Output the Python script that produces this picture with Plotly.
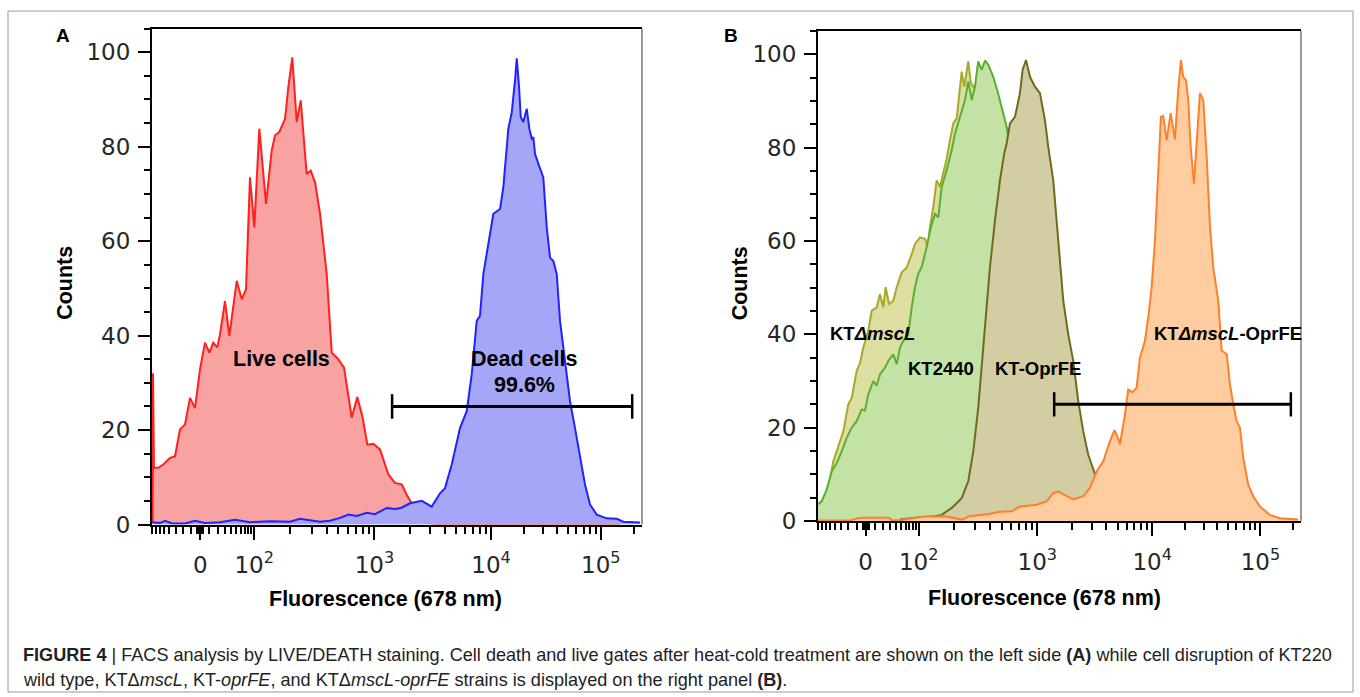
import numpy as np
import plotly.graph_objects as go

# ---------------- data (x in logicle display channels 0-1000, y = counts) -------------
live_x = [1.4, 2, 4, 12.9, 23, 36.7, 46.9, 57.1, 67.4, 77.6, 87.8, 98, 108.2, 117, 125.1, 133.3,
          138.8, 149, 157.8, 172.9, 183.1, 191.9, 195.3, 200, 208.8, 219, 232.7, 244.3, 251, 259.8,
          271.5, 278.2, 286.3, 295.3, 303.5, 315.7, 323.9, 332.7, 342.9, 356.6, 366.8, 380.2, 391.9,
          407.6, 419, 430, 439.4, 451.7, 465.3, 482.3, 496, 509.6, 519.8, 530, 547, 567, 588, 955]
live_y = [0.6, 32, 12, 12, 12.7, 14.1, 14.4, 20.1, 21.2, 26.8, 24.7, 32.9, 38.5, 36.4, 38.5, 37.5,
          40.3, 47.3, 39.9, 51.6, 47.7, 49.8, 60, 73.5, 62.9, 83.8, 67.9, 79.2, 82.4, 83.1,
          85.9, 92.6, 98.9, 85.2, 89.8, 74.2, 74.9, 72.5, 65.8, 53, 36.4, 35, 33.2,
          22.6, 27, 22.6, 16.9, 17.1, 15.9, 10.6, 8.8, 8.5, 6.3, 4.5, 1.5, 0.3, 0, 0]

dead_x = [0, 16.3, 26.5, 40.8, 67.4, 87.8, 108.2, 138.8, 169.4, 200, 240.8, 281.7, 302, 342.9,
          363.3, 383.7, 400.7, 417.8, 438.2, 455.1, 479, 496, 508.2, 526.6, 550.5, 570.9, 587.8,
          598, 611.7, 628.6, 642.3, 652.5, 662.7, 669.4, 676.2, 686.4, 696.6, 710.3, 717, 727.2,
          734.2, 740.9, 744.4, 749.1, 752.5, 757.8, 764.8, 770.1, 775, 778.2, 781.7, 788.4, 798.6,
          805.6, 812.3, 819.1, 826, 832.7, 842.9, 853.1, 863.3, 873.5, 883.8, 894, 907.6, 928,
          948.5, 961.9, 982.3, 996]
dead_y = [0.5, 0.3, 0.8, 0.2, 0.2, 0.8, 0.3, 0.5, 1.0, 0.5, 0.7, 0.6, 1.2, 0.6,
          0.8, 1.4, 2.1, 1.8, 2.5, 2.2, 3.5, 3.3, 3.5, 4.5, 5.0, 3.8, 6.6,
          7.7, 12.7, 20.4, 24, 31.8, 43.1, 44.2, 53, 59.4, 65.8, 66.8, 71.4, 83.8,
          87.3, 94.1, 98.7, 92.6, 86.3, 85.2, 88, 83.8, 81.7, 82, 78.5, 76.4, 73.5,
          62.9, 56.5, 55.8, 53, 43.1, 34.6, 26.1, 20.4, 14.1, 8.4, 4.2, 2.1, 1.3,
          1.2, 0.6, 0.5, 0.4]

mscl_x = [0, 7.7, 21.3, 31.7, 42, 52.4, 62.7, 69.8, 80.1, 86.9, 93.8, 104.1, 111.2, 121.5, 128.3,
          135.2, 140.1, 147, 155.9, 162.9, 173.3, 183.6, 194, 200.8, 211.1, 221.5, 227.1, 231.8,
          238.7, 245.7, 252.5, 259.4, 266.4, 273.2, 280.1, 287.1, 293.9, 297.5, 302.8, 307.8,
          311.1, 316.7, 325, 331.8, 338.9, 345.7, 352.5, 362.9, 373.2, 380.3, 390.6, 397.4,
          418.1, 438.8, 459.5, 480.2, 501, 521.6, 542.3, 666.5]
mscl_y = [3.5, 4.2, 7.1, 12.8, 16, 19.2, 25, 26.4, 32.2, 33.8, 37.2, 40.8, 45.1, 45.8, 48.6,
          45.8, 50.1, 46.5, 47.2, 50.1, 53.3, 54.3, 57.2, 59.4, 60.8, 60.5, 58.9, 63,
          67.3, 73, 71.6, 74.5, 77.7, 81.6, 85.2, 86.3, 92.4, 96.3, 93.1, 96.3,
          98.5, 93.8, 92.6, 98, 96.2, 98.2, 97.3, 94.7, 91, 88.3, 84, 79.5,
          64.5, 47.5, 31.5, 17.5, 7.5, 1.5, 0.2, 0]

kt2440_x = [0, 7.7, 18, 28.4, 38.7, 49.1, 59.4, 69.8, 80.1, 90.5, 97.3, 104.1, 114.5, 121.5, 128.3,
            138.7, 145.5, 155.9, 162.9, 169.7, 176.6, 186.9, 194, 200.8, 207.6, 214.7, 225, 233.9,
            242.2, 249, 256.1, 266.4, 276.8, 283.6, 293.9, 304.3, 311.1, 318.2, 325, 331.8, 338.9,
            345.7, 352.5, 362.9, 373.2, 380.3, 390.6, 397.4, 418.1, 438.8, 459.5, 480.2, 501,
            521.6, 542.3, 666.5]
kt2440_y = [3.6, 4.2, 6.7, 10.6, 12.4, 14.9, 17.8, 20, 21.4, 23.9, 23.7, 27.1, 30, 29, 31.4,
            32.9, 34.3, 35.7, 33.6, 37.1, 38.6, 40, 45.8, 50.1, 53, 54.4, 58.7, 63,
            65.8, 65.1, 71.6, 75.2, 79.5, 83, 86.6, 90.2, 94.2, 90.2, 93.1, 98.5, 96.7,
            98.7, 97.8, 95.2, 91.5, 88.8, 84.5, 80, 65, 48, 32, 18, 8,
            2, 0.3, 0]

oprfe_x = [169.7, 211.1, 242.2, 256.1, 276.8, 297.5, 311.1, 321.5, 331.8, 338.9, 345.7, 356, 366.4,
           376.7, 385.6, 390.6, 397.4, 407.8, 418.1, 423.7, 430.6, 438.8, 449.2, 459.5, 469.9,
           476.7, 487.1, 494.1, 500.9, 507.8, 518.1, 528.5, 538.8, 549.2, 559.5, 569.9, 583.7,
           604.4, 625.1, 666.5]
oprfe_y = [0.3, 0.8, 1.0, 1.3, 2.8, 4.9, 8.5, 14.9, 24.3, 32.9, 42.2, 54.4, 64.4,
           73, 78.8, 80.9, 85.2, 86.6, 91.7, 96.7, 98.8, 95.2, 93.1, 91.7, 85.9,
           80.2, 73, 64.4, 55.8, 47.2, 40, 34.3, 25.7, 19.2, 14.2, 11, 7,
           3, 1, 0]

mscl_oprfe_x = [0, 66.2, 82.8, 91.1, 147, 153.2, 173.9, 215.3, 262.9, 298.1, 312.6, 335.3, 354,
                376.7, 401.6, 418.1, 452.7, 473.4, 487.1, 497.4, 511.3, 528.5, 549.2, 563, 576.9,
                590.6, 604.4, 613.8, 622, 625.1, 635.5, 642.3, 651.4, 659.7, 666.5, 676.9, 683.7,
                690.8, 697.6, 704.4, 710, 714.8, 721.8, 730.1, 739, 745.8, 751.4, 756.2, 761.8,
                766.6, 771.5, 778.4, 784, 790.8, 797.7, 804.7, 811.6, 818.3, 828.7, 835.7, 846.1,
                852.9, 859.7, 866.8, 873.6, 880.4, 890.8, 901.1, 915, 935.6, 956.3, 977, 994.2]
mscl_oprfe_y = [0.1, 0.1, 0.6, 0.7, 0.7, 0.1, 0.2, 0.9, 1.0, 0.3, 1, 1.3, 1.5,
                2, 2.1, 3.1, 3.5, 4.2, 6, 6.3, 5.5, 4.6, 5.3, 7.1, 10.6,
                12.8, 17.1, 19.5, 17.5, 16.4, 22.8, 28.2, 27.6, 28.6, 35, 38.6, 43.6,
                50.1, 60.1, 74.5, 86.6, 86.8, 81.6, 87.4, 81.8, 92.4, 98.8, 95.2, 94.5,
                90.2, 80.2, 72.3, 81.6, 91.7, 90.2, 78, 63, 54.4, 47.2, 36.5, 35.8,
                29.3, 25, 21.4, 20, 13.5, 7.8, 5.3, 3.1, 1.3, 0.6, 0.4, 0.3]

gate_A = [490, 980]
gate_B = [489, 979]
gate_level = 25
gate_cap = 2.6

# axis ticks (display-channel positions of the logicle scale)
zero_pos = 98.5
decade_pos = [208.5, 454, 692, 916]          # 10^2 .. 10^5
x_major_vals = [zero_pos] + decade_pos
x_major_text = ["0", "10<sup>2</sup>", "10<sup>3</sup>", "10<sup>4</sup>", "10<sup>5</sup>"]
y_major_vals = [0, 20, 40, 60, 80, 100]

minor_vals = [1.0]
half = decade_pos[0] - zero_pos
for v in range(1, 10):
    for s in (1, -1):
        minor_vals.append(zero_pos + s * v * 0.7)
for v in range(10, 100, 10):
    for s in (1, -1):
        p = zero_pos + s * half * np.arcsinh(v / 30) / np.arcsinh(100 / 30)
        if 0 < p < 1000:
            minor_vals.append(float(p))
spans = [decade_pos[i + 1] - decade_pos[i] for i in range(3)] + [224]
for i, d in enumerate(decade_pos):
    for m in range(2, 10):
        p = d + np.log10(m) * spans[i]
        if p < 1000:
            minor_vals.append(float(p))

# ---------------- figure -------------
W = 1360
H = 712          # page height; the photographed frame maps it onto 697 rows
REF_H = 697
fig = go.Figure()


def hist(x, y, line, fill, xa, ya):
    fig.add_trace(go.Scatter(x=x, y=y, mode="lines", line=dict(color=line, width=2),
                             fill="tozeroy", fillcolor=fill, xaxis=xa, yaxis=ya,
                             hoverinfo="skip", showlegend=False))


def gate(g, xa, ya):
    fig.add_trace(go.Scatter(x=g, y=[gate_level, gate_level], mode="lines",
                             line=dict(color="black", width=3), xaxis=xa, yaxis=ya,
                             hoverinfo="skip", showlegend=False))
    fig.add_trace(go.Scatter(x=[g[0], g[0], None, g[1], g[1]],
                             y=[gate_level - gate_cap, gate_level + gate_cap, None,
                                gate_level - gate_cap, gate_level + gate_cap],
                             mode="lines", line=dict(color="black", width=2.5),
                             xaxis=xa, yaxis=ya, hoverinfo="skip", showlegend=False))


hist(live_x, live_y, "#FF2020", "#F8A2A2", "x", "y")
hist(dead_x, dead_y, "#2222FF", "#A6A6F8", "x", "y")
gate(gate_A, "x", "y")

hist(mscl_x, mscl_y, "#A8A82A", "#DCDEA2", "x2", "y2")
hist(kt2440_x, kt2440_y, "#5AAF30", "#C4E2A6", "x2", "y2")
hist(oprfe_x, oprfe_y, "#6E6B1E", "#D3CDA4", "x2", "y2")
hist(mscl_oprfe_x, mscl_oprfe_y, "#FF7F2A", "#FFCDA0", "x2", "y2")
gate(gate_B, "x2", "y2")

tickfont = dict(family="DejaVu Sans", size=23, color="#262626")


def py(y):
    """row in the 697-row frame (from top) -> paper fraction"""
    return 1 - y / REF_H


def xaxis(domain):
    return dict(domain=domain, range=[0, 1000], showline=True, linecolor="black", linewidth=2,
                mirror=True, ticks="outside", tickvals=x_major_vals, ticktext=x_major_text,
                ticklen=13, tickwidth=2, tickcolor="black", showgrid=False, zeroline=False,
                tickfont=tickfont, ticklabelstandoff=6, fixedrange=True,
                minor=dict(tickmode="array", tickvals=minor_vals, ticks="outside", ticklen=7,
                           tickwidth=1.5, tickcolor="black", showgrid=False))


def yaxis(domain, anchor):
    return dict(domain=domain, anchor=anchor, range=[0, 105], showline=True, linecolor="black",
                linewidth=2, ticks="outside", tickvals=y_major_vals, ticklen=12, tickwidth=2,
                tickcolor="black", showgrid=False, zeroline=False, tickfont=tickfont,
                ticklabelstandoff=3, fixedrange=True,
                minor=dict(dtick=5, ticks="outside", ticklen=6, tickwidth=1.5,
                           tickcolor="black", showgrid=False))


fig.update_layout(
    width=W, height=H, autosize=False, margin=dict(l=0, r=0, t=0, b=0),
    paper_bgcolor="white", plot_bgcolor="white",
    xaxis=xaxis([152 / W, 642 / W]) | dict(anchor="y"),
    yaxis=yaxis([py(523), py(28.5)], "x"),
    xaxis2=xaxis([818 / W, 1301 / W]) | dict(anchor="y2"),
    yaxis2=yaxis([py(519.5), py(31)], "x2"),
)

shapes = []
for xr, yr in (("x domain", "y domain"), ("x2 domain", "y2 domain")):
    shapes.append(dict(type="line", xref=xr, yref=yr, x0=1, x1=1, y0=0, y1=1,
                       line=dict(color="#7a7a7a", width=1.5)))
shapes.append(dict(type="rect", xref="paper", yref="paper", x0=8 / W, x1=1353 / W,
                   y0=py(690), y1=py(11), line=dict(color="#9a9a9a", width=1)))
fig.update_layout(shapes=shapes)

bold = "Liberation Sans, Arial, sans-serif"
ann = []


def txt(text, x, y, size, xref="paper", yref="paper", xanchor="center", angle=0, color="black",
        family=bold):
    ann.append(dict(text=text, x=x, y=y, xref=xref, yref=yref, xanchor=xanchor,
                    yanchor="middle", showarrow=False, textangle=angle,
                    font=dict(family=family, size=size, color=color)))


txt("<b>A</b>", 63 / W, py(35), 19)
txt("<b>B</b>", 731 / W, py(35), 19)
txt("<b>Counts</b>", 65 / W, py(282), 21.5, angle=-90)
txt("<b>Counts</b>", 739.5 / W, py(282), 21.5, angle=-90)
txt("<b>Fluorescence (678 nm)</b>", 385.5 / W, py(597), 21.5)
txt("<b>Fluorescence (678 nm)</b>", 1044.7 / W, py(596), 21.5)

txt("<b>Live cells</b>", 264.7, 35, 21.5, "x", "y")
txt("<b>Dead cells</b>", 760, 35, 21.5, "x", "y")
txt("<b>99.6%</b>", 759.5, 29.6, 21.5, "x", "y")

txt("<b>KT<i>ΔmscL</i></b>", 20.7, 40.1, 18.5, "x2", "y2", "left")
txt("<b>KT2440</b>", 181.3, 32.7, 18.5, "x2", "y2", "left")
txt("<b>KT-OprFE</b>", 361.6, 32.7, 18.5, "x2", "y2", "left")
txt("<b>KT<i>ΔmscL</i>-OprFE</b>", 690.8, 40.1, 18.5, "x2", "y2", "left")

cap_font = "Liberation Sans, Arial, sans-serif"
txt("<b>FIGURE 4</b> | FACS analysis by LIVE/DEATH staining. Cell death and live gates after "
    "heat-cold treatment are shown on the left side <b>(A)</b> while cell disruption of KT220",
    21 / W, py(653), 18.1, xanchor="left", color="#222222", family=cap_font)
txt("wild type, KTΔ<i>mscL</i>, KT-<i>oprFE</i>, and KTΔ<i>mscL-oprFE</i> strains is displayed "
    "on the right panel <b>(B)</b>.",
    21 / W, py(678), 18.1, xanchor="left", color="#222222", family=cap_font)
fig.update_layout(annotations=ann)

fig.write_html("out.html", config={"displayModeBar": False},
               post_script="document.body.style.margin='0';document.body.style.overflow='hidden';")
